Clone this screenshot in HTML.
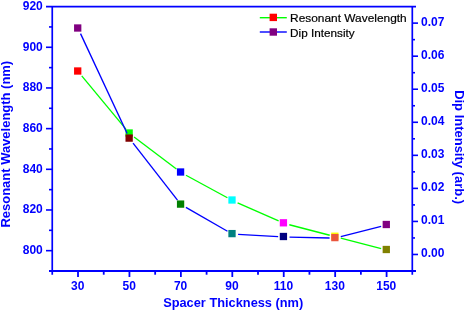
<!DOCTYPE html>
<html><head><meta charset="utf-8"><style>
html,body{margin:0;padding:0;background:#fff;}
body{width:466px;height:311px;overflow:hidden;font-family:"Liberation Sans",sans-serif;}
svg{display:block;will-change:transform;}
</style></head><body>
<svg width="466" height="311" viewBox="0 0 466 311">
<rect width="466" height="311" fill="#fff"/>
<line x1="46.0" y1="6.6" x2="416.0" y2="6.6" stroke="#0000ff" stroke-width="1.6"/>
<line x1="49.0" y1="271.0" x2="416.0" y2="271.0" stroke="#0000ff" stroke-width="2"/>
<line x1="52.25" y1="6.6" x2="52.25" y2="274.7" stroke="#0000ff" stroke-width="1.7"/>
<line x1="412.3" y1="6.6" x2="412.3" y2="274.7" stroke="#0000ff" stroke-width="1.7"/>
<line x1="46.0" y1="250.66" x2="52.0" y2="250.66" stroke="#0000ff" stroke-width="1.6"/>
<line x1="49.0" y1="230.32" x2="52.0" y2="230.32" stroke="#0000ff" stroke-width="1.6"/>
<line x1="46.0" y1="209.98" x2="52.0" y2="209.98" stroke="#0000ff" stroke-width="1.6"/>
<line x1="49.0" y1="189.65" x2="52.0" y2="189.65" stroke="#0000ff" stroke-width="1.6"/>
<line x1="46.0" y1="169.31" x2="52.0" y2="169.31" stroke="#0000ff" stroke-width="1.6"/>
<line x1="49.0" y1="148.97" x2="52.0" y2="148.97" stroke="#0000ff" stroke-width="1.6"/>
<line x1="46.0" y1="128.63" x2="52.0" y2="128.63" stroke="#0000ff" stroke-width="1.6"/>
<line x1="49.0" y1="108.29" x2="52.0" y2="108.29" stroke="#0000ff" stroke-width="1.6"/>
<line x1="46.0" y1="87.95" x2="52.0" y2="87.95" stroke="#0000ff" stroke-width="1.6"/>
<line x1="49.0" y1="67.62" x2="52.0" y2="67.62" stroke="#0000ff" stroke-width="1.6"/>
<line x1="46.0" y1="47.28" x2="52.0" y2="47.28" stroke="#0000ff" stroke-width="1.6"/>
<line x1="49.0" y1="26.94" x2="52.0" y2="26.94" stroke="#0000ff" stroke-width="1.6"/>
<line x1="412.0" y1="254.47" x2="418.0" y2="254.47" stroke="#0000ff" stroke-width="1.6"/>
<line x1="412.0" y1="237.95" x2="415.0" y2="237.95" stroke="#0000ff" stroke-width="1.6"/>
<line x1="412.0" y1="221.43" x2="418.0" y2="221.43" stroke="#0000ff" stroke-width="1.6"/>
<line x1="412.0" y1="204.90" x2="415.0" y2="204.90" stroke="#0000ff" stroke-width="1.6"/>
<line x1="412.0" y1="188.38" x2="418.0" y2="188.38" stroke="#0000ff" stroke-width="1.6"/>
<line x1="412.0" y1="171.85" x2="415.0" y2="171.85" stroke="#0000ff" stroke-width="1.6"/>
<line x1="412.0" y1="155.33" x2="418.0" y2="155.33" stroke="#0000ff" stroke-width="1.6"/>
<line x1="412.0" y1="138.80" x2="415.0" y2="138.80" stroke="#0000ff" stroke-width="1.6"/>
<line x1="412.0" y1="122.28" x2="418.0" y2="122.28" stroke="#0000ff" stroke-width="1.6"/>
<line x1="412.0" y1="105.75" x2="415.0" y2="105.75" stroke="#0000ff" stroke-width="1.6"/>
<line x1="412.0" y1="89.23" x2="418.0" y2="89.23" stroke="#0000ff" stroke-width="1.6"/>
<line x1="412.0" y1="72.70" x2="415.0" y2="72.70" stroke="#0000ff" stroke-width="1.6"/>
<line x1="412.0" y1="56.18" x2="418.0" y2="56.18" stroke="#0000ff" stroke-width="1.6"/>
<line x1="412.0" y1="39.65" x2="415.0" y2="39.65" stroke="#0000ff" stroke-width="1.6"/>
<line x1="412.0" y1="23.12" x2="418.0" y2="23.12" stroke="#0000ff" stroke-width="1.6"/>
<line x1="78.01" y1="271.0" x2="78.01" y2="277.0" stroke="#0000ff" stroke-width="1.8"/>
<line x1="103.73" y1="271.0" x2="103.73" y2="274.7" stroke="#0000ff" stroke-width="1.8"/>
<line x1="129.44" y1="271.0" x2="129.44" y2="277.0" stroke="#0000ff" stroke-width="1.8"/>
<line x1="155.16" y1="271.0" x2="155.16" y2="274.7" stroke="#0000ff" stroke-width="1.8"/>
<line x1="180.87" y1="271.0" x2="180.87" y2="277.0" stroke="#0000ff" stroke-width="1.8"/>
<line x1="206.59" y1="271.0" x2="206.59" y2="274.7" stroke="#0000ff" stroke-width="1.8"/>
<line x1="232.30" y1="271.0" x2="232.30" y2="277.0" stroke="#0000ff" stroke-width="1.8"/>
<line x1="258.01" y1="271.0" x2="258.01" y2="274.7" stroke="#0000ff" stroke-width="1.8"/>
<line x1="283.73" y1="271.0" x2="283.73" y2="277.0" stroke="#0000ff" stroke-width="1.8"/>
<line x1="309.44" y1="271.0" x2="309.44" y2="274.7" stroke="#0000ff" stroke-width="1.8"/>
<line x1="335.16" y1="271.0" x2="335.16" y2="277.0" stroke="#0000ff" stroke-width="1.8"/>
<line x1="360.87" y1="271.0" x2="360.87" y2="274.7" stroke="#0000ff" stroke-width="1.8"/>
<line x1="386.59" y1="271.0" x2="386.59" y2="277.0" stroke="#0000ff" stroke-width="1.8"/>
<text transform="translate(42.80,254.06) scale(1,1.0)" font-family="Liberation Sans, sans-serif" font-weight="bold" font-size="12" fill="#0000ff" text-anchor="end">800</text>
<text transform="translate(42.80,213.38) scale(1,1.0)" font-family="Liberation Sans, sans-serif" font-weight="bold" font-size="12" fill="#0000ff" text-anchor="end">820</text>
<text transform="translate(42.80,172.71) scale(1,1.0)" font-family="Liberation Sans, sans-serif" font-weight="bold" font-size="12" fill="#0000ff" text-anchor="end">840</text>
<text transform="translate(42.80,132.03) scale(1,1.0)" font-family="Liberation Sans, sans-serif" font-weight="bold" font-size="12" fill="#0000ff" text-anchor="end">860</text>
<text transform="translate(42.80,91.35) scale(1,1.0)" font-family="Liberation Sans, sans-serif" font-weight="bold" font-size="12" fill="#0000ff" text-anchor="end">880</text>
<text transform="translate(42.80,50.68) scale(1,1.0)" font-family="Liberation Sans, sans-serif" font-weight="bold" font-size="12" fill="#0000ff" text-anchor="end">900</text>
<text transform="translate(42.80,10.00) scale(1,1.0)" font-family="Liberation Sans, sans-serif" font-weight="bold" font-size="12" fill="#0000ff" text-anchor="end">920</text>
<text transform="translate(421.10,256.88) scale(1,1.0)" font-family="Liberation Sans, sans-serif" font-weight="bold" font-size="12" fill="#0000ff" text-anchor="start">0.00</text>
<text transform="translate(421.10,223.83) scale(1,1.0)" font-family="Liberation Sans, sans-serif" font-weight="bold" font-size="12" fill="#0000ff" text-anchor="start">0.01</text>
<text transform="translate(421.10,190.78) scale(1,1.0)" font-family="Liberation Sans, sans-serif" font-weight="bold" font-size="12" fill="#0000ff" text-anchor="start">0.02</text>
<text transform="translate(421.10,157.73) scale(1,1.0)" font-family="Liberation Sans, sans-serif" font-weight="bold" font-size="12" fill="#0000ff" text-anchor="start">0.03</text>
<text transform="translate(421.10,124.68) scale(1,1.0)" font-family="Liberation Sans, sans-serif" font-weight="bold" font-size="12" fill="#0000ff" text-anchor="start">0.04</text>
<text transform="translate(421.10,91.63) scale(1,1.0)" font-family="Liberation Sans, sans-serif" font-weight="bold" font-size="12" fill="#0000ff" text-anchor="start">0.05</text>
<text transform="translate(421.10,58.58) scale(1,1.0)" font-family="Liberation Sans, sans-serif" font-weight="bold" font-size="12" fill="#0000ff" text-anchor="start">0.06</text>
<text transform="translate(421.10,25.52) scale(1,1.0)" font-family="Liberation Sans, sans-serif" font-weight="bold" font-size="12" fill="#0000ff" text-anchor="start">0.07</text>
<text transform="translate(77.71,289.90) scale(1,1.0)" font-family="Liberation Sans, sans-serif" font-weight="bold" font-size="12" fill="#0000ff" text-anchor="middle">30</text>
<text transform="translate(129.14,289.90) scale(1,1.0)" font-family="Liberation Sans, sans-serif" font-weight="bold" font-size="12" fill="#0000ff" text-anchor="middle">50</text>
<text transform="translate(180.57,289.90) scale(1,1.0)" font-family="Liberation Sans, sans-serif" font-weight="bold" font-size="12" fill="#0000ff" text-anchor="middle">70</text>
<text transform="translate(232.00,289.90) scale(1,1.0)" font-family="Liberation Sans, sans-serif" font-weight="bold" font-size="12" fill="#0000ff" text-anchor="middle">90</text>
<text transform="translate(283.43,289.90) scale(1,1.0)" font-family="Liberation Sans, sans-serif" font-weight="bold" font-size="12" fill="#0000ff" text-anchor="middle">110</text>
<text transform="translate(334.86,289.90) scale(1,1.0)" font-family="Liberation Sans, sans-serif" font-weight="bold" font-size="12" fill="#0000ff" text-anchor="middle">130</text>
<text transform="translate(386.29,289.90) scale(1,1.0)" font-family="Liberation Sans, sans-serif" font-weight="bold" font-size="12" fill="#0000ff" text-anchor="middle">150</text>
<text transform="translate(233.20,306.70) scale(1,1.0)" font-family="Liberation Sans, sans-serif" font-weight="bold" font-size="12.8" fill="#0000ff" text-anchor="middle">Spacer Thickness (nm)</text>
<text transform="translate(10.10,144.20) rotate(-90) scale(1,0.95)" font-family="Liberation Sans, sans-serif" font-weight="bold" font-size="13.0" fill="#0000ff" text-anchor="middle">Resonant Wavelength (nm)</text>
<text transform="translate(455.30,147.10) rotate(90) scale(1,0.95)" font-family="Liberation Sans, sans-serif" font-weight="bold" font-size="13.0" fill="#0000ff" text-anchor="middle">Dip Intensity (arb.)</text>
<line x1="81.75" y1="75.89" x2="125.90" y2="129.11" stroke="#00ff00" stroke-width="1.35"/>
<line x1="134.08" y1="136.94" x2="176.43" y2="169.06" stroke="#00ff00" stroke-width="1.35"/>
<line x1="185.98" y1="175.23" x2="227.39" y2="197.77" stroke="#00ff00" stroke-width="1.35"/>
<line x1="237.61" y1="202.81" x2="278.62" y2="220.99" stroke="#00ff00" stroke-width="1.35"/>
<line x1="289.34" y1="224.74" x2="329.74" y2="235.26" stroke="#00ff00" stroke-width="1.35"/>
<line x1="340.78" y1="238.13" x2="381.17" y2="248.57" stroke="#00ff00" stroke-width="1.35"/>
<rect x="74.06" y="67.35" width="7.3" height="7.3" fill="#ff0000"/>
<rect x="125.49" y="129.35" width="7.3" height="7.3" fill="#00ff00"/>
<rect x="176.92" y="168.35" width="7.3" height="7.3" fill="#0000ff"/>
<rect x="228.35" y="196.35" width="7.3" height="7.3" fill="#00ffff"/>
<rect x="279.78" y="219.15" width="7.3" height="7.3" fill="#ff00ff"/>
<rect x="331.21" y="232.55" width="7.3" height="7.3" fill="#ffff00"/>
<rect x="382.64" y="245.85" width="7.3" height="7.3" fill="#808000"/>
<line x1="80.53" y1="33.66" x2="127.13" y2="133.44" stroke="#0000ff" stroke-width="1.35"/>
<line x1="133.05" y1="143.10" x2="177.47" y2="200.10" stroke="#0000ff" stroke-width="1.35"/>
<line x1="185.92" y1="207.44" x2="227.46" y2="231.26" stroke="#0000ff" stroke-width="1.35"/>
<line x1="238.09" y1="234.42" x2="278.14" y2="236.68" stroke="#0000ff" stroke-width="1.35"/>
<line x1="289.53" y1="237.12" x2="329.56" y2="237.98" stroke="#0000ff" stroke-width="1.35"/>
<line x1="340.78" y1="236.69" x2="381.16" y2="226.41" stroke="#0000ff" stroke-width="1.35"/>
<rect x="74.06" y="24.35" width="7.3" height="7.3" fill="#800080"/>
<rect x="125.49" y="134.45" width="7.3" height="7.3" fill="#800000"/>
<rect x="176.92" y="200.45" width="7.3" height="7.3" fill="#008000"/>
<rect x="228.35" y="229.95" width="7.3" height="7.3" fill="#008080"/>
<rect x="279.78" y="232.85" width="7.3" height="7.3" fill="#000080"/>
<rect x="331.21" y="233.95" width="7.3" height="7.3" fill="#ea553c"/>
<rect x="382.64" y="220.85" width="7.3" height="7.3" fill="#800080"/>
<line x1="259.8" y1="17.7" x2="286.8" y2="17.7" stroke="#00ff00" stroke-width="1.4"/>
<rect x="269.6" y="13.7" width="7.4" height="7.4" fill="#ff0000"/>
<line x1="259.8" y1="32" x2="286.8" y2="32" stroke="#0000ff" stroke-width="1.4"/>
<rect x="269.6" y="28.3" width="7.4" height="7.4" fill="#800080"/>
<text transform="translate(290.1,21.6) scale(1,0.93)" font-family="Liberation Sans, sans-serif" font-size="11.9" fill="#000" stroke="#000" stroke-width="0.2">Resonant Wavelength</text>
<text transform="translate(290.1,36.6) scale(1,0.93)" font-family="Liberation Sans, sans-serif" font-size="11.75" fill="#000" stroke="#000" stroke-width="0.2">Dip Intensity</text>
</svg>
</body></html>
